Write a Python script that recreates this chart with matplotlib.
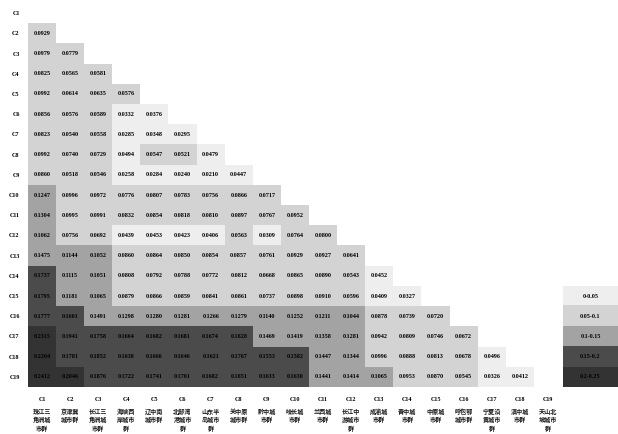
import numpy as np
import matplotlib
matplotlib.use("Agg")
import matplotlib.pyplot as plt
from matplotlib.colors import ListedColormap, BoundaryNorm

# group codes and full names (C1..C19)
codes = ["C%d" % i for i in range(1, 20)]
names = ["珠江三\n角洲城\n市群", "京津冀\n城市群", "长江三\n角洲城\n市群", "海峡西\n岸城市\n群",
         "辽中南\n城市群", "北部湾\n港城市\n群", "山东半\n岛城市\n群", "关中原\n城市群",
         "黔中城\n市群", "哈长城\n市群", "兰西城\n市群", "长江中\n游城市\n群",
         "成渝城\n市群", "晋中城\n市群", "中原城\n市群", "呼包鄂\n城市群",
         "宁夏沿\n黄城市\n群", "滇中城\n市群", "天山北\n坡城市\n群"]

# lower triangle, row Ci holds columns C1..C(i-1)
lower_values = [
    [],
    [0.0929],
    [0.0979, 0.0779],
    [0.0825, 0.0565, 0.0581],
    [0.0992, 0.0614, 0.0635, 0.0576],
    [0.0856, 0.0576, 0.0589, 0.0332, 0.0376],
    [0.0823, 0.0540, 0.0558, 0.0285, 0.0348, 0.0295],
    [0.0992, 0.0740, 0.0729, 0.0494, 0.0547, 0.0521, 0.0479],
    [0.0860, 0.0518, 0.0546, 0.0258, 0.0284, 0.0240, 0.0210, 0.0447],
    [0.1247, 0.0996, 0.0972, 0.0776, 0.0807, 0.0783, 0.0756, 0.0866, 0.0717],
    [0.1304, 0.0995, 0.0991, 0.0832, 0.0854, 0.0818, 0.0810, 0.0897, 0.0767, 0.0952],
    [0.1062, 0.0756, 0.0692, 0.0439, 0.0453, 0.0423, 0.0406, 0.0563, 0.0309, 0.0764, 0.0800],
    [0.1475, 0.1144, 0.1052, 0.0860, 0.0864, 0.0850, 0.0854, 0.0857, 0.0761, 0.0929, 0.0927, 0.0641],
    [0.1737, 0.1115, 0.1051, 0.0808, 0.0792, 0.0788, 0.0772, 0.0812, 0.0668, 0.0865, 0.0890, 0.0543,
     0.0452],
    [0.1795, 0.1181, 0.1065, 0.0879, 0.0866, 0.0859, 0.0841, 0.0861, 0.0737, 0.0898, 0.0910, 0.0596,
     0.0409, 0.0327],
    [0.1777, 0.1601, 0.1491, 0.1298, 0.1280, 0.1281, 0.1266, 0.1279, 0.1140, 0.1252, 0.1211, 0.1044,
     0.0878, 0.0739, 0.0720],
    [0.2315, 0.1941, 0.1758, 0.1664, 0.1682, 0.1681, 0.1674, 0.1828, 0.1469, 0.1419, 0.1358, 0.1281,
     0.0942, 0.0809, 0.0746, 0.0672],
    [0.2204, 0.1781, 0.1852, 0.1638, 0.1666, 0.1646, 0.1621, 0.1767, 0.1553, 0.1582, 0.1447, 0.1344,
     0.0996, 0.0888, 0.0813, 0.0678, 0.0496],
    [0.2412, 0.2046, 0.1876, 0.1722, 0.1741, 0.1701, 0.1682, 0.1851, 0.1633, 0.1630, 0.1441, 0.1414,
     0.1065, 0.0953, 0.0870, 0.0545, 0.0326, 0.0412],
]

bins = [0, 0.05, 0.1, 0.15, 0.2, 0.25]
bin_labels = ["0-0.05", "0.05-0.1", "0.1-0.15", "0.15-0.2", "0.2-0.25"]
bin_colors = ["#eeeeee", "#d3d3d3", "#a3a3a3", "#4b4b4b", "#333333"]

n = len(codes)
mat = np.full((n, n), np.nan)
for i, row in enumerate(lower_values):
    for j, v in enumerate(row):
        mat[i, j] = v
mat = np.ma.masked_invalid(mat)

cmap = ListedColormap(bin_colors)
norm = BoundaryNorm(bins, cmap.N)

fig = plt.figure(figsize=(6.18, 4.34), dpi=100)
ax = fig.add_axes([28 / 618, 1 - 387 / 434, 534 / 618, 384 / 434])
ax.imshow(mat, cmap=cmap, norm=norm, aspect="auto", interpolation="nearest")

num_font = dict(family="Liberation Serif", weight="bold", fontsize=4.4)
for i, row in enumerate(lower_values):
    for j, v in enumerate(row):
        ax.text(j, i, "%.4f" % v, ha="center", va="center", color="black", **num_font)

ax.set_xticks(range(n))
ax.set_xticklabels(codes, **num_font)
ax.set_yticks(range(n))
ax.set_yticklabels(codes, **num_font)
ax.tick_params(length=0, pad=6)
ax.xaxis.set_tick_params(pad=7)
for s in ax.spines.values():
    s.set_visible(False)

# full names under the codes
for j, nm in enumerate(names):
    ax.text(j, -0.054, nm, transform=ax.get_xaxis_transform(), ha="center", va="top",
            family=["Noto Sans CJK SC", "DejaVu Sans"], weight="black", fontsize=4.4,
            linespacing=1.25, color="#1a1a1a")

# legend boxes at the right, level with the last five rows
lax = fig.add_axes([563 / 618, 1 - 387 / 434, 55 / 618, 5 * 384 / 19 / 434])
lax.imshow(np.arange(len(bin_labels)).reshape(-1, 1), cmap=cmap,
           norm=BoundaryNorm(np.arange(len(bin_labels) + 1) - 0.5, cmap.N),
           aspect="auto", interpolation="nearest")
for k, lab in enumerate(bin_labels):
    lax.text(0, k, lab, ha="center", va="center", color="black", **num_font)
lax.set_xticks([])
lax.set_yticks([])
for s in lax.spines.values():
    s.set_visible(False)

fig.savefig("out.png", dpi=100)
